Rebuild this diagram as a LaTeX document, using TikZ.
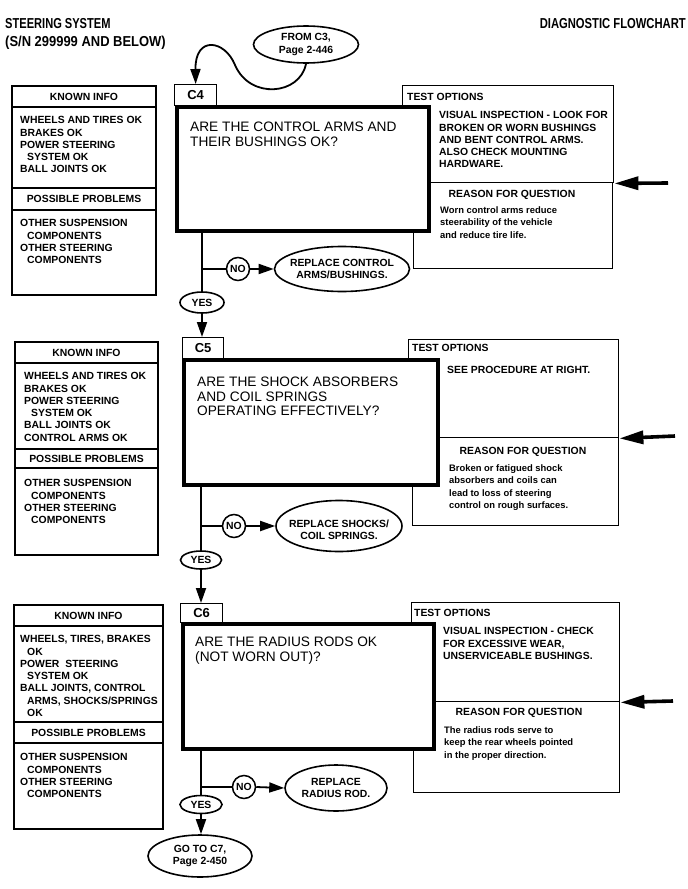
\documentclass[tikz,border=0pt]{standalone}
\usepackage{fontspec}
\setmainfont{Liberation Sans}
\usetikzlibrary{arrows.meta,shapes.geometric}
\begin{document}
\begin{tikzpicture}[x=1pt,y=-1pt,
  box/.style={draw,line width=1.3pt},
  nbox/.style={draw,line width=1.4pt,fill=white,anchor=north west,inner sep=0pt},
  sm/.style={font=\bfseries\fontsize{10.4}{12.3}\selectfont,inner sep=0pt},
  blk/.style={sm,anchor=north west,align=left},
  rsn/.style={font=\bfseries\fontsize{9.4}{12.4}\selectfont,inner sep=0pt,anchor=north west,align=left},
  qst/.style={font=\fontsize{13.7}{14.4}\selectfont,inner sep=0pt,anchor=north west,align=left},
  qbox/.style={draw,line width=4pt,fill=white,anchor=north west,inner sep=0pt},
  lab/.style={draw,line width=1.3pt,fill=white,anchor=north west,inner sep=0pt,font=\bfseries\fontsize{13}{15}\selectfont},
  hdr/.style={font=\bfseries\fontsize{14.4}{16}\selectfont,inner sep=0pt},
  ell/.style={draw,ellipse,line width=1.6pt,inner sep=0pt},
  nocirc/.style={draw,circle,line width=1.5pt,inner sep=0pt,minimum size=23pt,sm},
  flow/.style={line width=1.8pt},
  arr/.style={line width=1.8pt,-{Triangle[length=15pt,width=10pt]}},
  side/.style={line width=3.6pt,-{Triangle[length=24pt,width=13pt]}},
]
\useasboundingbox (0,0) rectangle (688,889);

% ---------- header ----------
\node[hdr,anchor=west] (h1) at (5,24) {\scalebox{0.77}[1]{STEERING SYSTEM}};
\node[hdr,anchor=west] (h2) at (5,43) {\scalebox{0.9}[1]{(S/N 299999 AND BELOW)}};
\node[hdr,anchor=east] (h3) at (686,24) {\scalebox{0.78}[1]{DIAGNOSTIC FLOWCHART}};

\node[ell,minimum width=105pt,minimum height=37pt] (from3) at (306,44.5) {};
\node[sm,align=center] (from3t) at (from3) {FROM C3,\\Page 2-446};

% ================= C4 =================
\draw[box] (12,86) rectangle (156,295);
\draw[box] (12,107) -- (156,107) (12,188) -- (156,188) (12,210) -- (156,210);
\node[sm] (k4h) at (84,97) {KNOWN INFO};
\node[blk] (k4b) at (20,116.3) {WHEELS AND TIRES OK\\BRAKES OK\\POWER STEERING\\\hspace*{7pt}SYSTEM OK\\BALL JOINTS OK};
\node[sm] (p4h) at (84,199) {POSSIBLE PROBLEMS};
\node[blk] (p4b) at (20,219.3) {OTHER SUSPENSION\\\hspace*{7pt}COMPONENTS\\OTHER STEERING\\\hspace*{7pt}COMPONENTS};

\node[nbox,minimum width=211pt,minimum height=97pt] (t4) at (402,85) {};
\node[sm,anchor=west] (t4h) at (407,97) {TEST OPTIONS};
\node[blk] (t4b) at (439,111.3) {VISUAL INSPECTION - LOOK FOR\\BROKEN OR WORN BUSHINGS\\AND BENT CONTROL ARMS.\\ALSO CHECK MOUNTING\\HARDWARE.};
\node[nbox,minimum width=199pt,minimum height=86pt] (r4) at (413,182) {};
\node[sm] (r4h) at (512,195) {REASON FOR QUESTION};
\node[rsn] (r4b) at (440,206.5) {Worn control arms reduce\\steerability of the vehicle\\and reduce tire life.};
\coordinate (s4) at (668,183);
\draw[side] (s4) -- (t4.south east);

\node[lab,minimum width=42pt,minimum height=21pt] (c4) at (174,84) {C4};
\node[qbox,minimum width=252pt,minimum height=124pt] (q4) at (175,105) {};
\node[qst] (q4t) at (190,122) {ARE THE CONTROL ARMS AND\\THEIR BUSHINGS OK?};

\draw[arr] (from3.south) .. controls (300,95) and (250,100) .. (235,65)
  .. controls (225,40) and (195,35) .. (c4.north);

\coordinate (j4) at (202,269);
\node[nocirc] (no4) at (238,269) {NO};
\node[ell,minimum width=135pt,minimum height=45pt] (rp4) at (342,269) {};
\node[sm,align=center] (rp4t) at (rp4) {REPLACE CONTROL\\ARMS/BUSHINGS.};
\node[ell,sm,minimum width=44pt,minimum height=21pt] (y4) at (202,302.5) {YES};
\draw[flow] (q4.south -| j4) -- (y4.north);
\draw[flow] (j4) -- (no4.west);
\draw[arr] (no4.east) -- (rp4.west);

% ================= C5 =================
\draw[box] (15,342) rectangle (158,555);
\draw[box] (15,363) -- (158,363) (15,449) -- (158,449) (15,468) -- (158,468);
\node[sm] (k5h) at (86.5,353) {KNOWN INFO};
\node[blk] (k5b) at (24,372.3) {WHEELS AND TIRES OK\\BRAKES OK\\POWER STEERING\\\hspace*{7pt}SYSTEM OK\\BALL JOINTS OK\\CONTROL ARMS OK};
\node[sm] (p5h) at (86.5,459) {POSSIBLE PROBLEMS};
\node[blk] (p5b) at (24,479.3) {OTHER SUSPENSION\\\hspace*{7pt}COMPONENTS\\OTHER STEERING\\\hspace*{7pt}COMPONENTS};

\node[nbox,minimum width=210pt,minimum height=98pt] (t5) at (408,339) {};
\node[sm,anchor=west] (t5h) at (412,348) {TEST OPTIONS};
\node[blk] (t5b) at (447,366.3) {SEE PROCEDURE AT RIGHT.};
\node[nbox,minimum width=206pt,minimum height=88pt] (r5) at (412,437) {};
\node[sm] (r5h) at (523,452) {REASON FOR QUESTION};
\node[rsn] (r5b) at (449,464.5) {Broken or fatigued shock\\absorbers and coils can\\lead to loss of steering\\control on rough surfaces.};
\coordinate (s5) at (675,436);
\draw[side] (s5) -- (t5.south east);

\node[lab,minimum width=41pt,minimum height=21pt] (c5) at (182,337) {C5};
\node[qbox,minimum width=254pt,minimum height=125pt] (q5) at (182,358) {};
\node[qst] (q5t) at (197,377) {ARE THE SHOCK ABSORBERS\\AND COIL SPRINGS\\OPERATING EFFECTIVELY?};

\draw[arr] (y4.south) -- (y4.south |- c5.north);

\coordinate (j5) at (201,526);
\node[nocirc] (no5) at (234,526) {NO};
\node[ell,minimum width=126pt,minimum height=51pt] (rp5) at (339,526) {};
\node[sm,align=center] (rp5t) at (339,530) {REPLACE SHOCKS/\\COIL SPRINGS.};
\node[ell,sm,minimum width=41pt,minimum height=18pt] (y5) at (201,560) {YES};
\draw[flow] (q5.south -| j5) -- (y5.north);
\draw[flow] (j5) -- (no5.west);
\draw[arr] (no5.east) -- (rp5.west);

% ================= C6 =================
\draw[box] (14,605) rectangle (163,829);
\draw[box] (14,626) -- (163,626) (14,722) -- (163,722) (14,743) -- (163,743);
\node[sm] (k6h) at (88.5,616) {KNOWN INFO};
\node[blk] (k6b) at (20,635.3) {WHEELS, TIRES, BRAKES\\\hspace*{7pt}OK\\POWER\hspace{3pt} STEERING\\\hspace*{7pt}SYSTEM OK\\BALL JOINTS, CONTROL\\\hspace*{7pt}ARMS, SHOCKS/SPRINGS\\\hspace*{7pt}OK};
\node[sm] (p6h) at (88.5,733) {POSSIBLE PROBLEMS};
\node[blk] (p6b) at (20,753.3) {OTHER SUSPENSION\\\hspace*{7pt}COMPONENTS\\OTHER STEERING\\\hspace*{7pt}COMPONENTS};

\node[nbox,minimum width=208pt,minimum height=99pt] (t6) at (411,602) {};
\node[sm,anchor=west] (t6h) at (414,613) {TEST OPTIONS};
\node[blk] (t6b) at (443,627.3) {VISUAL INSPECTION - CHECK\\FOR EXCESSIVE WEAR,\\UNSERVICEABLE BUSHINGS.};
\node[nbox,minimum width=206pt,minimum height=91pt] (r6) at (413,701) {};
\node[sm] (r6h) at (519,713) {REASON FOR QUESTION};
\node[rsn] (r6b) at (444,726.5) {The radius rods serve to\\keep the rear wheels pointed\\in the proper direction.};
\coordinate (s6) at (673,701);
\draw[side] (s6) -- (t6.south east);

\node[lab,minimum width=42pt,minimum height=19pt] (c6) at (180,603) {C6};
\node[qbox,minimum width=251pt,minimum height=125pt] (q6) at (181,622) {};
\node[qst] (q6t) at (195,637) {ARE THE RADIUS RODS OK\\(NOT WORN OUT)?};

\draw[arr] (y5.south) -- (y5.south |- c6.north);

\coordinate (j6) at (201,787);
\node[nocirc] (no6) at (244,787) {NO};
\node[ell,minimum width=102pt,minimum height=46pt] (rp6) at (336,788) {};
\node[sm,align=center] (rp6t) at (rp6) {REPLACE\\RADIUS ROD.};
\node[ell,sm,minimum width=42pt,minimum height=18pt] (y6) at (201,804.5) {YES};
\draw[flow] (q6.south -| j6) -- (y6.north);
\draw[flow] (j6) -- (no6.west);
\draw[arr] (no6.east) -- (rp6.west);

\node[ell,minimum width=104pt,minimum height=42pt] (go7) at (200,856) {};
\node[sm,align=center] (go7t) at (go7) {GO TO C7,\\Page 2-450};
\draw[arr] (y6.south) -- (y6.south |- go7.north);
\end{tikzpicture}
\end{document}
